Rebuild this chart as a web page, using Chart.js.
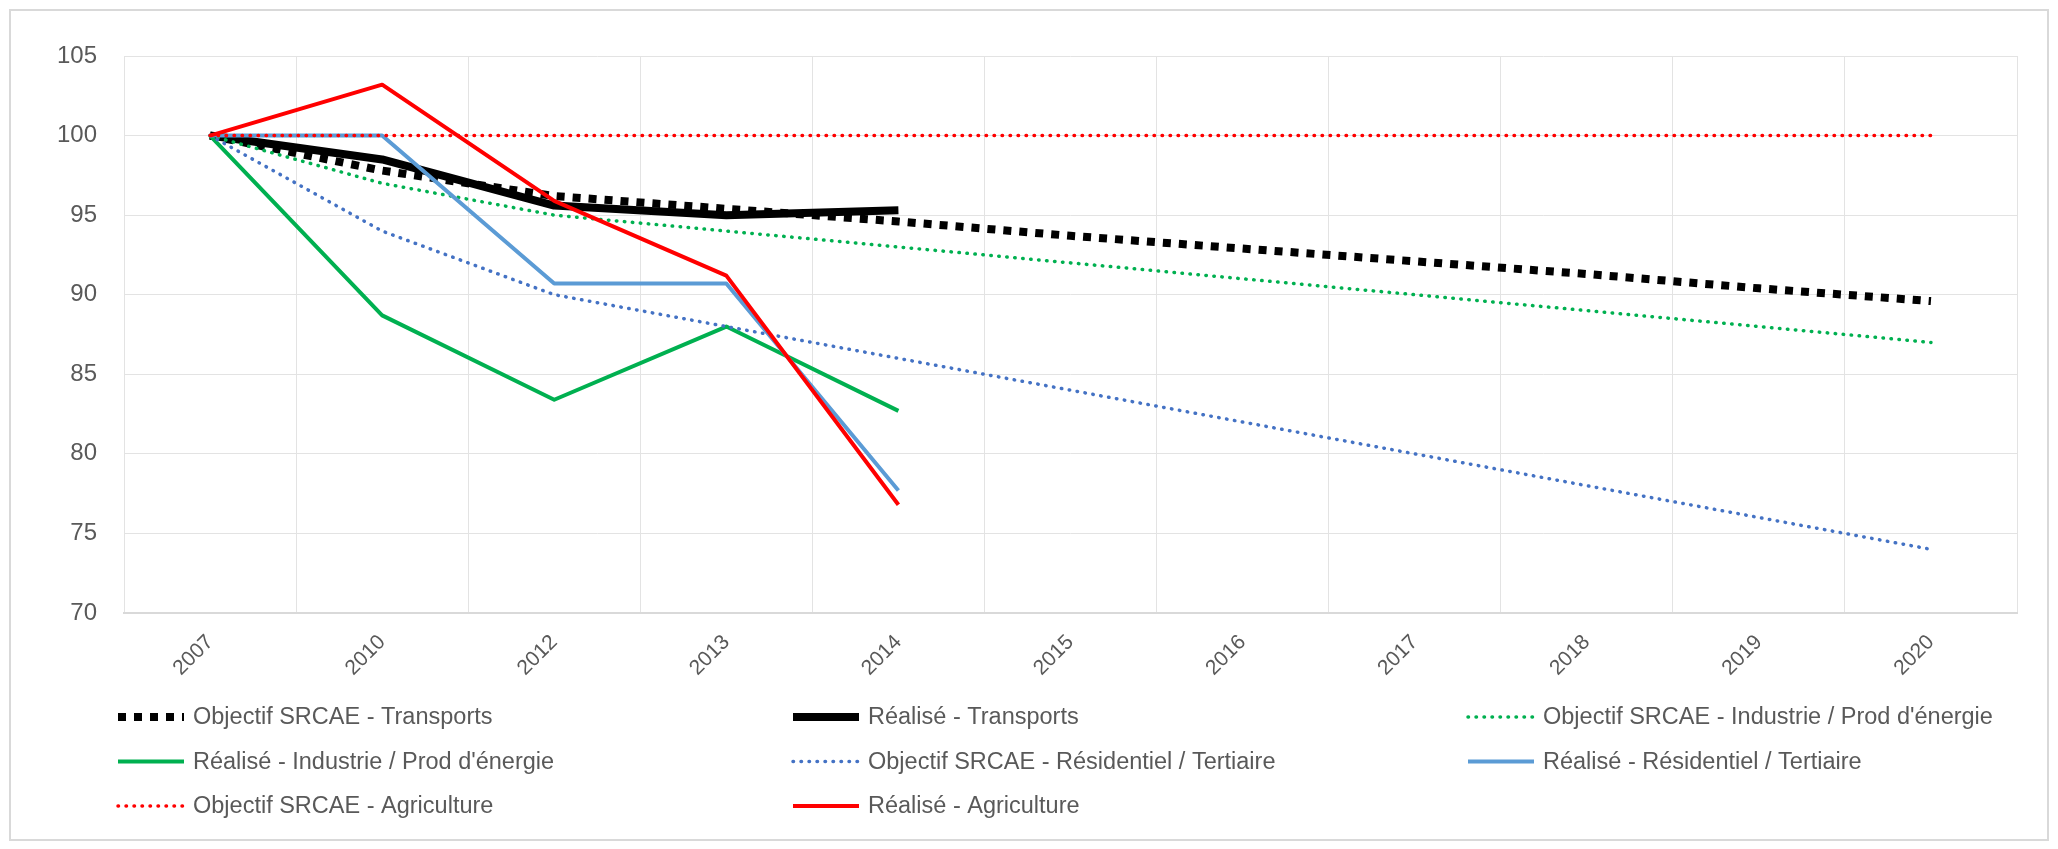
<!DOCTYPE html>
<html>
<head>
<meta charset="utf-8">
<script src="https://cdn.jsdelivr.net/npm/chart.js@4.4.1/dist/chart.umd.min.js"></script>
<style>
  html, body { margin: 0; padding: 0; background: #fff; }
  #frame { position: absolute; left: 9px; top: 9px; width: 2040px; height: 832px; border: 2px solid #d9d9d9; box-sizing: border-box; }
  #chart { position: absolute; left: 0; top: 0; }
</style>
</head>
<body>
<div id="frame"></div>
<canvas id="chart" width="2058" height="849"></canvas>
<script>
// Categories and y ticks
const years = ["2007", "2010", "2012", "2013", "2014", "2015", "2016", "2017", "2018", "2019", "2020"];
const yTicks = [70, 75, 80, 85, 90, 95, 100, 105];

// Series values (index 2007 = 100)
const objTransports = [100, 97.8, 96.2, 95.4, 94.6, 93.7, 92.9, 92.1, 91.3, 90.4, 89.6];
const realTransports = [100, 98.5, 95.6, 95.0, 95.3, null, null, null, null, null, null];
const objIndustrie = [100, 97, 95, 94, 93, 92, 91, 90, 89, 88, 87];
const realIndustrie = [100, 88.7, 83.4, 88.0, 82.7, null, null, null, null, null, null];
const objResidentiel = [100, 94, 90, 88, 86, 84, 82, 80, 78, 76, 74];
const realResidentiel = [100, 100, 90.7, 90.7, 77.7, null, null, null, null, null, null];
const objAgriculture = [100, 100, 100, 100, 100, 100, 100, 100, 100, 100, 100];
const realAgriculture = [100, 103.2, 95.9, 91.2, 76.8, null, null, null, null, null, null];

const textColor = "#595959";
const fontFamily = '"Liberation Sans", Arial, sans-serif';

// line styles like Excel: square dots, round dots, solid
const squareDot = { borderWidth: 8, borderDash: [8, 8], borderCapStyle: "butt" };
const roundDot = { borderWidth: 3.5, borderDash: [0.5, 7.5], borderCapStyle: "round" };
const solid = (w) => ({ borderWidth: w, borderDash: [], borderCapStyle: "butt" });

function line(label, data, color, style, i) {
    return Object.assign({
        label: label,
        data: data,
        borderColor: color,
        backgroundColor: color,
        fill: false,
        tension: 0,
        pointRadius: 0,
        pointHoverRadius: 0,
        borderJoinStyle: "round",
        order: 20 - i // later series drawn on top, like Excel
    }, style);
}

// Legend drawn in a 3 column grid under the chart
const gridLegend = {
    id: "gridLegend",
    afterDraw(chart) {
        const ctx = chart.ctx;
        const colW = 675, x0 = 118, y0 = 717, rowH = 44.5, sample = 66, gap = 9;
        chart.data.datasets.forEach((ds, i) => {
            const x = x0 + (i % 3) * colW;
            const y = y0 + Math.floor(i / 3) * rowH;
            ctx.save();
            ctx.strokeStyle = ds.borderColor;
            ctx.lineWidth = ds.borderWidth;
            ctx.setLineDash(ds.borderDash || []);
            ctx.lineCap = ds.borderCapStyle || "butt";
            ctx.beginPath();
            ctx.moveTo(x, y);
            ctx.lineTo(x + sample, y);
            ctx.stroke();
            ctx.setLineDash([]);
            ctx.fillStyle = textColor;
            ctx.font = "23.5px " + fontFamily;
            ctx.textBaseline = "middle";
            ctx.textAlign = "left";
            ctx.fillText(ds.label, x + sample + gap, y + 1);
            ctx.restore();
        });
    }
};

const ctx = document.getElementById("chart").getContext("2d");
new Chart(ctx, {
    type: "line",
    data: {
        labels: years,
        datasets: [
            line("Objectif SRCAE - Transports", objTransports, "#000000", squareDot, 0),
            line("Réalisé - Transports", realTransports, "#000000", solid(8), 1),
            line("Objectif SRCAE - Industrie / Prod d'énergie", objIndustrie, "#00B050", roundDot, 2),
            line("Réalisé - Industrie / Prod d'énergie", realIndustrie, "#00B050", solid(4), 3),
            line("Objectif SRCAE - Résidentiel / Tertiaire", objResidentiel, "#4472C4", roundDot, 4),
            line("Réalisé - Résidentiel / Tertiaire", realResidentiel, "#5B9BD5", solid(4), 5),
            line("Objectif SRCAE - Agriculture", objAgriculture, "#FF0000", roundDot, 6),
            line("Réalisé - Agriculture", realAgriculture, "#FF0000", solid(4), 7)
        ]
    },
    options: {
        responsive: false,
        animation: false,
        layout: { padding: { left: 0, top: 56, right: 41, bottom: 0 } },
        plugins: {
            legend: { display: false },
            tooltip: { enabled: false }
        },
        scales: {
            x: {
                offset: true,
                grid: { offset: true, color: "#e3e3e3", lineWidth: 1, drawTicks: false },
                border: { color: "#d9d9d9", width: 2 },
                ticks: {
                    color: textColor,
                    font: { family: fontFamily, size: 21 },
                    minRotation: 45,
                    maxRotation: 45,
                    padding: 17
                },
                afterFit: (scale) => { scale.height = 236; }
            },
            y: {
                min: yTicks[0],
                max: yTicks[yTicks.length - 1],
                grid: { color: "#e3e3e3", lineWidth: 1, drawTicks: false },
                border: { display: false },
                afterBuildTicks: (scale) => { scale.ticks = yTicks.map(v => ({ value: v })); },
                ticks: {
                    color: textColor,
                    font: { family: fontFamily, size: 24 },
                    padding: 27
                },
                afterFit: (scale) => { scale.width = 124; }
            }
        }
    },
    plugins: [gridLegend]
});
</script>
</body>
</html>
